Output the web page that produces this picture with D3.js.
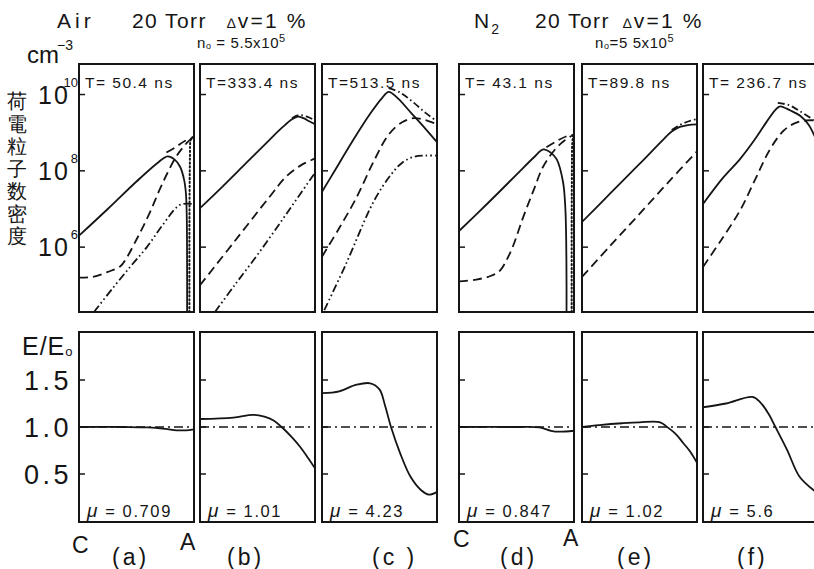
<!DOCTYPE html>
<html>
<head>
<meta charset="utf-8">
<script src="https://cdn.jsdelivr.net/npm/d3@7"></script>
<style>
  body { margin: 0; background: #fff; }
  text { font-family: "Liberation Sans", Arial, sans-serif; fill: #151515; }
</style>
</head>
<body>
<svg id="chart" width="814" height="569"></svg>
<script>
// ---- data ----
const panelNames = ["(a)", "(b)", "(c)", "(d)", "(e)", "(f)"];
const timeLabels = ["T= 50.4 ns", "T=333.4 ns", "T=513.5 ns", "T= 43.1 ns", "T=89.8  ns", "T= 236.7 ns"];
const muValues = ["0.709", "1.01", "4.23", "0.847", "1.02", "5.6"];
const densityTicks = [1e6, 1e8, 1e10];
const densityTickExp = ["6", "8", "10"];
const fieldTicks = [0.5, 1.0, 1.5];
const fieldTickLabels = ["0.5", "1.0", "1.5"];

// density curves: [position C->A (0..1), log10 n]
const solidA = [[0,6.3],[0.25,7.0],[0.5,7.72],[0.68,8.2],[0.77,8.38],[0.83,8.3],[0.88,8.1],[0.915,7.75],[0.93,7.4],[0.937,6.8],[0.94,5.5],[0.94,4.3]];
const dashedA = [[0,5.2],[0.12,5.22],[0.25,5.35],[0.36,5.5],[0.42,5.75],[0.5,6.2],[0.56,6.55],[0.63,7.0],[0.7,7.5],[0.77,7.95],[0.84,8.35],[0.9,8.6],[0.96,8.8],[1.0,8.88]];
const dashed2A = [[0.76,8.48],[0.84,8.62],[0.92,8.78],[1.0,8.88]];
const dashDotDotA = [[0.13,4.3],[0.3,4.95],[0.45,5.5],[0.59,6.0],[0.72,6.55],[0.85,7.05],[0.9,7.13],[1.0,7.13]];
const dottedA = [[0.96,4.3],[0.96,6.0],[0.962,7.5],[0.965,8.4],[0.97,8.8],[0.985,8.88],[1.0,8.88]];

const solidB = [[0,7.02],[0.2,7.6],[0.4,8.2],[0.6,8.8],[0.72,9.15],[0.8,9.35],[0.85,9.42],[0.9,9.38],[0.95,9.3],[1.0,9.22]];
const dashDotB = [[0.8,9.38],[0.86,9.46],[0.93,9.42],[1.0,9.32]];
const dashedB = [[0,5.0],[0.3,6.15],[0.6,7.3],[0.75,7.85],[0.88,8.15],[1.0,8.32]];
const dashDotDotB = [[0.13,4.3],[0.3,5.0],[0.5,5.8],[0.7,6.65],[0.85,7.3],[1.0,7.95]];

const solidC = [[0,7.45],[0.1,7.95],[0.27,8.8],[0.42,9.5],[0.52,9.9],[0.58,10.07],[0.66,9.9],[0.78,9.5],[0.9,9.1],[1.0,8.75]];
const dashDotC = [[0.58,10.17],[0.68,10.05],[0.8,9.78],[0.9,9.52],[1.0,9.3]];
const dashedC = [[0,5.75],[0.15,6.5],[0.3,7.3],[0.45,8.25],[0.58,8.95],[0.7,9.28],[0.8,9.38],[0.9,9.33],[1.0,9.22]];
const dashDotDotC = [[0.02,4.35],[0.2,5.5],[0.45,7.2],[0.6,7.9],[0.7,8.22],[0.8,8.37],[0.9,8.4],[1.0,8.4]];

const solidD = [[0,6.42],[0.25,7.15],[0.5,7.9],[0.65,8.35],[0.733,8.56],[0.8,8.47],[0.85,8.3],[0.905,7.7],[0.925,7.0],[0.932,6.2],[0.935,5.0],[0.935,4.3]];
const dashedD = [[0,5.1],[0.15,5.15],[0.28,5.25],[0.36,5.4],[0.42,5.7],[0.47,6.03],[0.56,6.8],[0.65,7.5],[0.73,8.1],[0.835,8.56],[0.92,8.8],[1.0,8.95]];
const dashed2D = [[0.76,8.62],[0.85,8.78],[0.93,8.9],[1.0,8.95]];
const dottedD = [[0.98,4.3],[0.98,6.5],[0.982,8.0],[0.985,8.7],[0.995,8.95],[1.0,8.97]];

const solidE = [[0,6.66],[0.25,7.42],[0.5,8.18],[0.7,8.8],[0.78,9.03],[0.85,9.15],[0.92,9.2],[1.0,9.22]];
const dashDotE = [[0.78,9.07],[0.85,9.2],[0.93,9.3],[1.0,9.36]];
const dashedE = [[0,5.22],[0.25,6.05],[0.5,6.87],[0.75,7.7],[1.0,8.51]];

const solidF = [[0,7.13],[0.175,7.82],[0.32,8.3],[0.45,8.82],[0.55,9.27],[0.63,9.6],[0.67,9.69],[0.76,9.58],[0.85,9.43],[0.92,9.2],[1.0,8.7]];
const dashDotF = [[0.65,9.78],[0.75,9.72],[0.85,9.55],[0.95,9.35],[1.0,9.2]];
const dashedF = [[0,5.48],[0.15,6.15],[0.32,6.95],[0.45,7.75],[0.58,8.55],[0.7,9.05],[0.8,9.25],[0.9,9.32],[1.0,9.32]];

// E/E0 curves: [position, E/E0]
const fieldA = [[0,1.0],[0.4,1.0],[0.6,0.995],[0.75,0.98],[0.85,0.965],[0.93,0.965],[1.0,0.975]];
const fieldB = [[0,1.085],[0.29,1.1],[0.46,1.13],[0.56,1.11],[0.64,1.07],[0.71,1.0],[0.8,0.89],[0.87,0.79],[0.94,0.67],[1.0,0.56]];
const fieldC = [[0,1.36],[0.15,1.38],[0.3,1.45],[0.42,1.465],[0.5,1.4],[0.55,1.22],[0.6,1.0],[0.68,0.72],[0.77,0.47],[0.86,0.33],[0.93,0.28],[1.0,0.31]];
const fieldD = [[0,1.0],[0.5,1.0],[0.7,0.995],[0.8,0.96],[0.87,0.95],[1.0,0.96]];
const fieldE = [[0,1.0],[0.15,1.02],[0.35,1.04],[0.5,1.05],[0.68,1.05],[0.74,1.0],[0.82,0.92],[0.88,0.83],[0.94,0.74],[1.0,0.62]];
const fieldF = [[0,1.21],[0.2,1.25],[0.43,1.32],[0.5,1.26],[0.57,1.14],[0.63,1.0],[0.73,0.76],[0.84,0.47],[0.96,0.33],[1.0,0.3]];

// which curve goes in which panel, and in which line style
const densityLines = [
  [0, "solid", solidA], [0, "dashed", dashedA], [0, "dashed", dashed2A], [0, "dashDotDot", dashDotDotA], [0, "dotted", dottedA],
  [1, "solid", solidB], [1, "dashDot", dashDotB], [1, "dashed", dashedB], [1, "dashDotDot", dashDotDotB],
  [2, "solid", solidC], [2, "dashDot", dashDotC], [2, "dashed", dashedC], [2, "dashDotDot", dashDotDotC],
  [3, "solid", solidD], [3, "dashed", dashedD], [3, "dashed", dashed2D], [3, "dotted", dottedD],
  [4, "solid", solidE], [4, "dashDot", dashDotE], [4, "dashed", dashedE],
  [5, "solid", solidF], [5, "dashDot", dashDotF], [5, "dashed", dashedF]
];
const fieldLines = [fieldA, fieldB, fieldC, fieldD, fieldE, fieldF];

// ---- layout ----
const panelLeft = [79, 200, 322, 459, 582, 703];
const panelW = 115;
const topY0 = 64, topY1 = 312;
const botY0 = 332, botY1 = 522;

const dashes = {
  solid: null,
  dashed: "9,5",
  dashDot: "7,3,1.6,3",
  dashDotDot: "8,3,1.6,3,1.6,3",
  dotted: "1.3,2.6"
};

const svg = d3.select("#chart");
const yDen = d3.scaleLog().domain([Math.pow(10, 4.3), Math.pow(10, 10.8)]).range([topY1, topY0]);
const yField = d3.scaleLinear().domain([0, 2]).range([521, 333]);
const ink = "#151515";

panelLeft.forEach(function (left, i) {
  const x = d3.scaleLinear().domain([0, 1]).range([left, left + panelW]);

  // clip regions
  svg.append("clipPath").attr("id", "clipTop" + i)
    .append("rect").attr("x", left).attr("y", topY0).attr("width", panelW).attr("height", topY1 - topY0);
  svg.append("clipPath").attr("id", "clipBot" + i)
    .append("rect").attr("x", left).attr("y", botY0).attr("width", panelW).attr("height", botY1 - botY0);

  // density curves
  const gTop = svg.append("g").attr("clip-path", "url(#clipTop" + i + ")");
  const lineDen = d3.line()
    .x(d => x(d[0]))
    .y(d => yDen(Math.pow(10, d[1])))
    .curve(d3.curveCatmullRom.alpha(0.5));
  densityLines.filter(l => l[0] === i).forEach(function (l) {
    gTop.append("path")
      .attr("d", lineDen(l[2]))
      .attr("fill", "none")
      .attr("stroke", ink)
      .attr("stroke-width", l[1] === "dotted" ? 2 : 1.8)
      .attr("stroke-linecap", l[1] === "dotted" ? "round" : "butt")
      .attr("stroke-dasharray", dashes[l[1]]);
  });

  // field curves
  const gBot = svg.append("g").attr("clip-path", "url(#clipBot" + i + ")");
  gBot.append("line")
    .attr("x1", left).attr("x2", left + panelW)
    .attr("y1", yField(1)).attr("y2", yField(1))
    .attr("stroke", ink).attr("stroke-width", 1.4)
    .attr("stroke-dasharray", "9,4,2,4");
  const lineField = d3.line()
    .x(d => x(d[0]))
    .y(d => yField(d[1]))
    .curve(d3.curveCatmullRom.alpha(0.5));
  gBot.append("path")
    .attr("d", lineField(fieldLines[i]))
    .attr("fill", "none").attr("stroke", ink).attr("stroke-width", 1.8);

  // frames
  [[topY0, topY1], [botY0, botY1]].forEach(function (r) {
    svg.append("rect")
      .attr("x", left).attr("y", r[0])
      .attr("width", panelW).attr("height", r[1] - r[0])
      .attr("fill", "none").attr("stroke", ink).attr("stroke-width", 2);
  });

  // inward ticks
  densityTicks.forEach(function (t) {
    svg.append("line")
      .attr("x1", left).attr("x2", left + 6)
      .attr("y1", yDen(t)).attr("y2", yDen(t))
      .attr("stroke", ink).attr("stroke-width", 1.5);
  });
  fieldTicks.forEach(function (t) {
    svg.append("line")
      .attr("x1", left).attr("x2", left + 6)
      .attr("y1", yField(t)).attr("y2", yField(t))
      .attr("stroke", ink).attr("stroke-width", 1.5);
  });

  // labels inside panels
  svg.append("text")
    .attr("x", left + 6).attr("y", 88)
    .attr("font-size", 15.5).attr("letter-spacing", 1.5)
    .text(timeLabels[i]);
  const mu = svg.append("text")
    .attr("x", left + 8).attr("y", 517)
    .attr("font-size", 16.5).attr("letter-spacing", 1.6);
  mu.append("tspan").attr("font-style", "italic").attr("font-size", 19).text("μ");
  mu.append("tspan").text(" = " + muValues[i]);
});

// y tick labels: density (power of ten with superscript, one text element each)
densityTicks.forEach(function (t, k) {
  const y = yDen(t);
  const exp = densityTickExp[k];
  const lab = svg.append("text").attr("x", 38).attr("y", y + 9)
    .attr("font-size", 25).attr("letter-spacing", 2);
  lab.append("tspan").text("10");
  lab.append("tspan")
    .attr("font-size", 13).attr("letter-spacing", 0)
    .attr("dy", -17).attr("dx", (78 - exp.length * 7.2) - 69.8)
    .text(exp);
});
// y tick labels: field
fieldTicks.forEach(function (t, k) {
  svg.append("text").attr("x", 72).attr("y", yField(t) + 10)
    .attr("text-anchor", "end")
    .attr("font-size", 27).attr("letter-spacing", 3.5).text(fieldTickLabels[k]);
});

// axis titles
const cm = svg.append("text").attr("x", 27).attr("y", 63).attr("font-size", 24);
cm.append("tspan").text("cm");
cm.append("tspan").attr("font-size", 14).attr("dy", -13).attr("dx", -2).text("−3");

"荷電粒子数密度".split("").forEach(function (c, k) {
  svg.append("text")
    .attr("x", 17).attr("y", 101 + k * 22.5)
    .attr("text-anchor", "middle").attr("dominant-baseline", "central")
    .attr("font-family", "'Noto Sans CJK JP', sans-serif")
    .attr("font-weight", 300)
    .attr("font-size", 20)
    .text(c);
});

const ee = svg.append("text").attr("x", 22).attr("y", 355).attr("font-size", 25).attr("letter-spacing", 1);
ee.append("tspan").text("E/E");
ee.append("tspan").attr("font-size", 13).attr("dy", 1).text("o");

// headers
function header(x0, gas, sub) {
  const t = svg.append("text").attr("x", x0).attr("y", 28).attr("font-size", 21).attr("letter-spacing", sub ? 2 : 4);
  t.append("tspan").text(gas);
  if (sub) t.append("tspan").attr("font-size", 14).attr("dy", 6).attr("letter-spacing", 0).text(sub);
}
header(57, "Air", null);
header(474, "N", "2");

function torr(x0) {
  svg.append("text").attr("x", x0).attr("y", 28).attr("font-size", 21).attr("letter-spacing", 1.4).text("20 Torr");
}
torr(132);
torr(535);

function deltaV(x0) {
  const t = svg.append("text").attr("x", x0).attr("y", 28).attr("font-size", 21).attr("letter-spacing", 2.2);
  t.append("tspan").attr("font-size", 14).text("∆");
  t.append("tspan").text("v=1 %");
}
deltaV(227);
deltaV(623);

function density0(x0, val) {
  const t = svg.append("text").attr("x", x0).attr("y", 48).attr("font-size", 15).attr("letter-spacing", 0.6);
  t.append("tspan").text("n");
  t.append("tspan").attr("font-size", 9).attr("dy", 1).text("o");
  t.append("tspan").attr("dy", -1).text(val);
  t.append("tspan").attr("font-size", 11).attr("dy", -6).text("5");
}
density0(197, " = 5.5x10");
density0(595, "=5 5x10");

// electrode and panel letters
const bottomLabels = [
  ["C", 72, 553], ["(a)", 112, 565], ["A", 180, 550], ["(b)", 227, 565], ["(c )", 372, 565],
  ["C", 453, 547], ["(d)", 500, 565], ["A", 563, 546], ["(e)", 617, 565], ["(f)", 737, 565]
];
bottomLabels.forEach(function (b) {
  svg.append("text").attr("x", b[1]).attr("y", b[2])
    .attr("font-size", 23).attr("letter-spacing", b[0].length > 1 ? 3 : 0)
    .text(b[0]);
});
</script>
</body>
</html>
